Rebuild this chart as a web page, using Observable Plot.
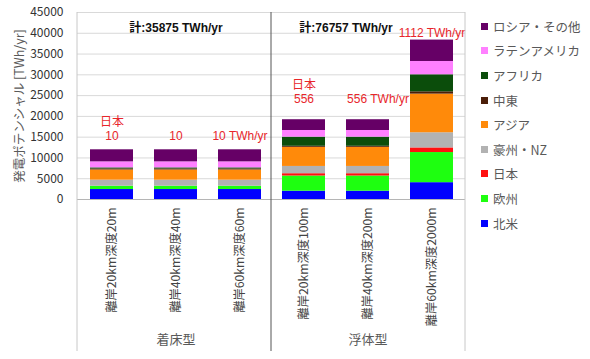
<!DOCTYPE html>
<html>
<head>
<meta charset="utf-8">
<script src="https://cdn.jsdelivr.net/npm/d3@7"></script>
<script src="https://cdn.jsdelivr.net/npm/@observablehq/plot@0.6"></script>
<style>
  html, body { margin: 0; padding: 0; background: #fff; }
  #wrap { position: relative; width: 590px; height: 359px; font-family: 'Noto Sans CJK JP', 'Noto Sans', sans-serif; }
  #legend { position: absolute; left: 481px; top: 14px; }
  .li { height: 24.6px; display: flex; align-items: center; font-size: 12.5px; color: #595959; white-space: nowrap; }
  .sw { width: 7px; height: 7px; margin-right: 5px; flex: none; }
</style>
</head>
<body>
<div id="wrap"><div id="legend"></div></div>
<script>
// ---- data ----
const categories = ["離岸20km深度20m", "離岸40km深度40m", "離岸60km深度60m", "離岸20km深度100m", "離岸40km深度200m", "離岸60km深度2000m"];
const groups = ["着床型", "浮体型"];
const groupTotals = ["計:35875 TWh/yr", "計:76757 TWh/yr"];
const regions = ["北米", "欧州", "日本", "豪州・NZ", "アジア", "中東", "アフリカ", "ラテンアメリカ", "ロシア・その他"];
const colors = ["#0000FF", "#1EFF10", "#FF1010", "#B2B2B2", "#FF8A0A", "#4B1E08", "#0B4D0B", "#FF80FF", "#660066"];
const northAmerica = [2400, 2400, 2400, 2000, 2000, 4050];
const europe       = [800, 800, 800, 3650, 3650, 7250];
const japan        = [10, 10, 10, 556, 556, 1112];
const australiaNZ  = [1450, 1450, 1450, 1750, 1750, 3650];
const asia         = [2450, 2450, 2450, 4600, 4600, 9300];
const middleEast   = [250, 250, 250, 250, 250, 550];
const africa       = [250, 250, 250, 2200, 2200, 4100];
const latinAmerica = [1450, 1450, 1450, 1600, 1600, 3200];
const russiaOther  = [2900, 2900, 2900, 2590, 2590, 5150];
const japanNotes = ["日本\n10", "10", "10 TWh/yr", "日本\n556", "556 TWh/yr", "1112 TWh/yr"];
const yTicks = [0, 5000, 10000, 15000, 20000, 25000, 30000, 35000, 40000, 45000];
const yTitle = "発電ポテンシャル [TWh/yr]";

// ---- build rows ----
const series = [northAmerica, europe, japan, australiaNZ, asia, middleEast, africa, latinAmerica, russiaOther];
const rows = [];
regions.forEach((r, ri) => categories.forEach((c, ci) => rows.push({cat: c, region: r, value: series[ri][ci]})));
// annotation baselines (data units above 0)
const noteY = [14300, 14300, 14300, 23200, 23200, 39060];
const notes = japanNotes.map((t, i) => ({t, cat: categories[i], y: noteY[i], i}));

const font = "'Noto Sans CJK JP', 'Noto Sans', sans-serif";
const latinFont = "'Liberation Sans', 'Noto Sans CJK JP', sans-serif";
const red = "#E8262B";

const plot = Plot.plot({
  width: 590,
  height: 359,
  marginLeft: 77,
  marginRight: 125,
  marginTop: 12,
  marginBottom: 160,
  style: {fontFamily: font, fontSize: "12px", background: "transparent", overflow: "visible"},
  x: {domain: categories, paddingInner: 0.33, paddingOuter: 0.165, label: null},
  y: {domain: [0, 45000], label: null},
  color: {domain: regions, range: colors},
  marks: [
    Plot.gridY(yTicks, {stroke: "#d9d9d9", strokeOpacity: 1}),
    Plot.axisY(yTicks, {tickSize: 0, tickPadding: 14, label: null, fontSize: 12, fill: "#333", tickFormat: d => String(d)}),
    Plot.axisX({tickSize: 0, tickPadding: 8, tickRotate: -90, textAnchor: "end", label: null, fontSize: 12.2, fill: "#444"}),
    Plot.barY(rows, {x: "cat", y: "value", fill: "region", order: regions}),
    Plot.ruleY([0], {stroke: "#b5b5b5"}),
    Plot.text([yTitle], {frameAnchor: "left", textAnchor: "middle", dx: -58, rotate: -90, fontSize: 12.5, fill: "#595959"}),
    Plot.text([groupTotals[0]], {x: [categories[1]], frameAnchor: "top", dy: 11, fontWeight: "bold", fontSize: 12, fill: "#111", fontFamily: latinFont}),
    Plot.text([groupTotals[1]], {x: [categories[4]], frameAnchor: "top", dy: 11, dx: -22, fontWeight: "bold", fontSize: 12, fill: "#111", fontFamily: latinFont}),
    Plot.text(groups, {x: [categories[1], categories[4]], frameAnchor: "bottom", dy: 144, fontSize: 13, fill: "#595959"}),
    Plot.text(notes.filter(d => d.i !== 4), {x: "cat", y: "y", text: "t", lineAnchor: "bottom", lineHeight: 1.15, fontSize: 12, fill: red, fontFamily: latinFont}),
    Plot.text(notes.filter(d => d.i === 4), {x: "cat", y: "y", text: "t", lineAnchor: "bottom", dx: 10, fontSize: 12, fill: red, fontFamily: latinFont})
  ]
});

// frame/divider lines from the x scale
const xs = plot.scale("x");
const [r0, r1] = xs.range;
const step = (r1 - r0) / categories.length;
const svg = d3.select(plot);
[[r0, "#c8c8c8"], [r0 + 3 * step, "#555"], [r1, "#c8c8c8"]].forEach(([xv, col]) => {
  svg.append("line").attr("x1", xv).attr("x2", xv).attr("y1", 12).attr("y2", 351)
    .attr("stroke", col).attr("stroke-width", 1);
});

document.getElementById("wrap").prepend(plot);
plot.style.position = "absolute";
plot.style.left = "0px";
plot.style.top = "0px";

// legend (top to bottom reversed order)
const leg = document.getElementById("legend");
regions.slice().reverse().forEach(r => {
  const i = regions.indexOf(r);
  const d = document.createElement("div");
  d.className = "li";
  d.innerHTML = `<span class="sw" style="background:${colors[i]}"></span><span>${r}</span>`;
  leg.appendChild(d);
});
</script>
</body>
</html>
